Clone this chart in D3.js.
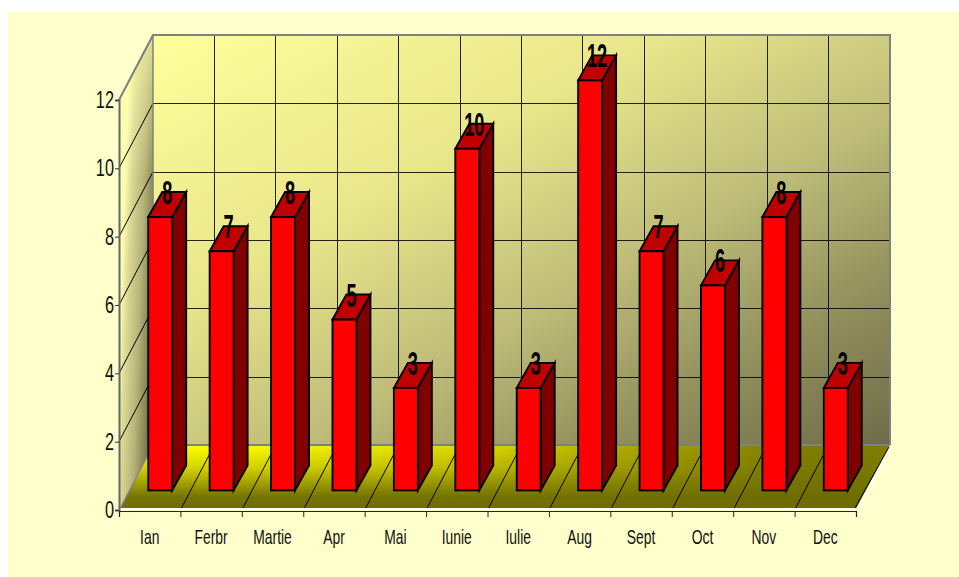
<!DOCTYPE html>
<html><head><meta charset="utf-8">
<script src="https://cdn.jsdelivr.net/npm/d3@7/dist/d3.min.js"></script>
<style>html,body{margin:0;padding:0;background:#fff}svg{display:block}text{font-family:"Liberation Sans",Arial,sans-serif}</style>
</head><body><svg id="c" width="959" height="577"></svg>
<script>
const categories=["Ian","Ferbr","Martie","Apr","Mai","Iunie","Iulie","Aug","Sept","Oct","Nov","Dec"];
const values=[8,7,8,5,3,10,3,12,7,6,8,3];
const yTicks=[0,2,4,6,8,10,12];

const svg=d3.select("#c");
const W=959,H=577;
const x0=119,x1=856,yBase=510,yTop=100,dpx=34,dpy=-65;
const barShift=[10.5,-19.6],barDepth=[14,-25];
const band=d3.scaleBand().domain(categories).range([x0,x1]).paddingInner(.61).paddingOuter(.305);
const catBand=d3.scaleBand().domain(categories).range([x0,x1]);
const slots=d3.scaleLinear().domain([0,categories.length]).range([x0,x1]);
const y=d3.scaleLinear().domain([0,12]).range([yBase,yTop]);
const path=p=>"M"+p.map(d=>d.join(",")).join("L")+"Z";

const defs=svg.append("defs");
function grad(id,attrs,stops){
  const g=defs.append("linearGradient").attr("id",id);
  Object.entries(attrs).forEach(([k,v])=>g.attr(k,v));
  stops.forEach(([o,c,a])=>g.append("stop").attr("offset",o).attr("stop-color",c).attr("stop-opacity",a==null?1:a));
}
grad("back",{x1:0,y1:0,x2:1,y2:1},[[0,"#ffff9c"],[.35,"#e8e68a"],[.6,"#bebc78"],[.8,"#92905c"],[1,"#6e6c48"]]);
grad("side",{gradientUnits:"userSpaceOnUse",x1:122,y1:260,x2:152,y2:261.1},[[0,"#fdfdb0"],[.22,"#dcda94"],[.65,"#b4b276"],[1,"#82804f"]]);
grad("sideTop",{x1:0,y1:0,x2:0,y2:1},[[0,"#ffffb0",.6],[.3,"#ffffb0",0]]);
grad("floorH",{gradientUnits:"userSpaceOnUse",x1:230,y1:0,x2:790,y2:0},[[0,"#ffff00"],[.45,"#dcd800"],[.75,"#a8a400"],[1,"#807e00"]]);
grad("floorV",{x1:0,y1:0,x2:0,y2:1},[[0,"#6e6c00",0],[.35,"#6e6c00",.3],[.8,"#6e6c00",.95],[1,"#6e6c00",1]]);

// panel
svg.append("rect").attr("x",8).attr("y",12).attr("width",W-8).attr("height",H-12).attr("fill","#ffffcc");

// walls
const bl=[x0+dpx,yBase+dpy],br=[x1+dpx,yBase+dpy];
svg.append("rect").attr("x",bl[0]).attr("y",yTop+dpy).attr("width",x1-x0).attr("height",yBase-yTop).attr("fill","url(#back)");
const sidePts=[[x0,yBase],[x0,yTop],[bl[0],yTop+dpy],bl];
svg.append("path").attr("d",path(sidePts)).attr("fill","url(#side)");
svg.append("path").attr("d",path(sidePts)).attr("fill","url(#sideTop)");
const floorPts=[[x0,yBase],[x1,yBase],br,bl];
svg.append("path").attr("d",path(floorPts)).attr("fill","url(#floorH)");
svg.append("path").attr("d",path(floorPts)).attr("fill","url(#floorV)");

// grid
const grid=svg.append("g").attr("fill","none");
yTicks.filter(v=>v>0&&v<12).forEach(v=>{
  grid.append("line").attr("x1",bl[0]).attr("x2",br[0]).attr("y1",y(v)+dpy+.6).attr("y2",y(v)+dpy+.6).attr("stroke","#000").attr("stroke-opacity",.85).attr("shape-rendering","crispEdges");
});
yTicks.filter(v=>v>0).forEach(v=>{
  grid.append("line").attr("x1",x0).attr("y1",y(v)).attr("x2",bl[0]).attr("y2",y(v)+dpy).attr("stroke","#000");
});
d3.range(1,categories.length).forEach(i=>{
  const gx=slots(i);
  grid.append("line").attr("x1",gx+dpx).attr("x2",gx+dpx).attr("y1",yTop+dpy).attr("y2",yBase+dpy).attr("stroke","#000").attr("stroke-opacity",.85).attr("shape-rendering","crispEdges");
  grid.append("line").attr("x1",gx).attr("y1",yBase).attr("x2",gx+dpx).attr("y2",yBase+dpy).attr("stroke","#000");
});
// wall edges
grid.append("path").attr("d",`M${x0},${yTop}L${bl[0]},${yTop+dpy}L${br[0]},${yTop+dpy}L${br[0]},${yBase+dpy}`).attr("stroke","#808080").attr("stroke-width",2);
grid.append("line").attr("x1",bl[0]).attr("x2",bl[0]).attr("y1",yTop+dpy).attr("y2",yBase+dpy).attr("stroke","#808080").attr("stroke-width",1.5);
grid.append("line").attr("x1",bl[0]).attr("x2",br[0]).attr("y1",yBase+dpy).attr("y2",yBase+dpy).attr("stroke","#808080").attr("stroke-width",2);
grid.append("line").attr("x1",x0+1).attr("y1",yBase-1).attr("x2",bl[0]).attr("y2",yBase+dpy).attr("stroke","#8080a0").attr("stroke-width",1.5);
// rim of the floor: white, with a thin dark line on its inner side
grid.append("path").attr("d",`M${x0},${yBase-1}L${x1+1},${yBase-1}L${br[0]+1},${yBase+dpy+1}`).attr("stroke","#ffffff").attr("stroke-width",2);
grid.append("line").attr("x1",x1-1).attr("y1",yBase-2).attr("x2",br[0]-1).attr("y2",yBase+dpy+2).attr("stroke","#000").attr("stroke-width",1);

// bars
const bars=svg.append("g").selectAll("g").data(categories.map((c,i)=>({c,v:values[i]}))).join("g")
  .attr("stroke","#000").attr("stroke-width",1.9).attr("stroke-linejoin","miter");
const bx=d=>band(d.c)+barShift[0], bw=band.bandwidth();
const by=d=>y(d.v)+barShift[1], bb=y(0)+barShift[1];
bars.append("path").attr("fill","#800000").attr("d",d=>path([[bx(d)+bw,by(d)],[bx(d)+bw+barDepth[0],by(d)+barDepth[1]],[bx(d)+bw+barDepth[0],bb+barDepth[1]],[bx(d)+bw,bb]]));
bars.append("path").attr("fill","#c00000").attr("d",d=>path([[bx(d),by(d)],[bx(d)+barDepth[0],by(d)+barDepth[1]],[bx(d)+bw+barDepth[0],by(d)+barDepth[1]],[bx(d)+bw,by(d)]]));
bars.append("rect").attr("fill","#ff0000").attr("x",bx).attr("y",by).attr("width",bw).attr("height",d=>bb-by(d));
bars.append("text").attr("stroke","none").attr("fill","#000").attr("font-weight","bold").attr("font-size",33).attr("text-anchor","middle")
  .attr("transform",d=>`translate(${bx(d)+bw/2+7},${by(d)-13}) scale(.55,1)`).text(d=>d.v);

// axes
const yAxis=svg.append("g").attr("transform",`translate(${x0},0)`).call(d3.axisLeft(y).tickValues(yTicks).tickSize(4).tickPadding(0).tickFormat(d3.format("d")));
yAxis.select(".domain").attr("stroke","#666").attr("stroke-width",2);
yAxis.selectAll("line").attr("stroke","#333");
yAxis.selectAll("text").attr("x",0).attr("dy",0).attr("font-size",24).attr("fill","#111").attr("text-anchor","end")
  .attr("y",0).attr("transform","translate(-5,7.5) scale(.68,1)");
const xTicks=svg.append("g").attr("transform",`translate(0,${yBase+1})`).call(d3.axisBottom(slots).tickValues(d3.range(0,categories.length+1)).tickSize(6).tickFormat(""));
xTicks.select(".domain").attr("stroke","#222").attr("stroke-width",1.2);
xTicks.selectAll("line").attr("stroke","#222");
const xLabels=svg.append("g").attr("transform",`translate(0,${yBase})`).call(d3.axisBottom(catBand).tickSize(0));
xLabels.select(".domain").remove();
xLabels.selectAll("text").attr("y",0).attr("dy",0).attr("font-size",21).attr("fill","#111").attr("text-anchor","middle")
  .attr("transform","translate(0,33.5) scale(.66,1)");
</script></body></html>
